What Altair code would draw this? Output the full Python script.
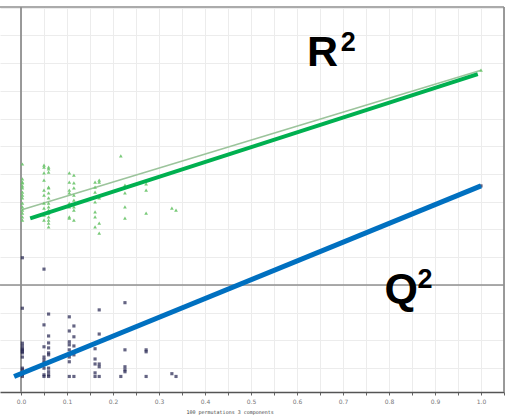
import altair as alt
import pandas as pd

# ---- data ----
# R2 permutation values (green triangles): x = correlation, one list of R2 per x column
r2_cols = [0.003, 0.05, 0.06, 0.105, 0.115, 0.161, 0.17, 0.217, 0.226, 0.272, 0.328, 0.337, 1.0]
r2_vals = [
    [0.436, 0.382, 0.371, 0.368, 0.357, 0.35, 0.335, 0.324, 0.314, 0.295, 0.281, 0.27, 0.259, 0.245, 0.234],
    [0.432, 0.425, 0.404, 0.378, 0.342, 0.324, 0.295, 0.277, 0.252, 0.234],
    [0.425, 0.418, 0.407, 0.353, 0.35, 0.332, 0.314, 0.295, 0.281, 0.27, 0.259, 0.245, 0.234, 0.223, 0.209],
    [0.404, 0.371, 0.342, 0.332, 0.295, 0.281, 0.245, 0.241],
    [0.396, 0.368, 0.35, 0.324, 0.306, 0.281, 0.27, 0.234],
    [0.371, 0.353, 0.335, 0.299, 0.263, 0.245, 0.209],
    [0.378, 0.371, 0.314, 0.223, 0.187],
    [0.465],
    [0.36, 0.353, 0.332, 0.281, 0.241],
    [0.364, 0.342, 0.259],
    [0.277],
    [0.27],
    [0.774],
]
# Q2 permutation values (dark squares)
q2_cols = [0.003, 0.05, 0.06, 0.105, 0.115, 0.161, 0.17, 0.217, 0.226, 0.272, 0.328, 0.337, 1.0]
q2_vals = [
    [0.098, -0.084, -0.21, -0.22, -0.23, -0.234, -0.24, -0.245, -0.26, -0.30, -0.306, -0.317, -0.324, -0.33],
    [0.057, -0.144, -0.223, -0.26, -0.27, -0.28, -0.30, -0.324, -0.33],
    [-0.105, -0.184, -0.209, -0.227, -0.245, -0.252, -0.30, -0.313, -0.324, -0.33],
    [-0.115, -0.166, -0.205, -0.216, -0.234, -0.26, -0.277, -0.33],
    [-0.148, -0.187, -0.22, -0.252, -0.33],
    [-0.23, -0.267, -0.285, -0.317, -0.33],
    [-0.09, -0.177, -0.285, -0.295, -0.33],
    [-0.33],
    [-0.064, -0.234, -0.295, -0.306, -0.313],
    [-0.234, -0.241, -0.33],
    [-0.32],
    [-0.33],
    [0.357],
]
# thin R2 regression line (SIMCA)
r2_fit_x = [0.0, 1.0]
r2_fit_y = [0.27, 0.774]
# thick overlay lines
r2_over_x = [0.02, 0.993]
r2_over_y = [0.24, 0.76]
q2_over_x = [-0.015, 1.0]
q2_over_y = [-0.33, 0.357]
# labels: main letter and superscript
lab_text = ["R", "Q"]
lab_x = [0.622, 0.79]
lab_y = [0.79, -0.066]
sup_text = ["2", "2"]
sup_x = [0.695, 0.862]
sup_y = [0.842, -0.012]

x_ticks = [round(i * 0.05, 2) for i in range(0, 22)]
y_ticks = [round(-0.3 + i * 0.1, 1) for i in range(0, 14)]
XDOM = [-0.04565, 1.05]
YDOM = [-0.386, 1.002]

r2_df = pd.DataFrame([(cx, v) for cx, vs in zip(r2_cols, r2_vals) for v in vs], columns=["x", "y"])
q2_df = pd.DataFrame([(cx, v) for cx, vs in zip(q2_cols, q2_vals) for v in vs], columns=["x", "y"])
fit_df = pd.DataFrame({"x": r2_fit_x, "y": r2_fit_y})
r2o_df = pd.DataFrame({"x": r2_over_x, "y": r2_over_y})
q2o_df = pd.DataFrame({"x": q2_over_x, "y": q2_over_y})
lab_df = pd.DataFrame({"t": lab_text, "x": lab_x, "y": lab_y})
sup_df = pd.DataFrame({"t": sup_text, "x": sup_x, "y": sup_y})
frame_v = pd.DataFrame({"x": [0.0, XDOM[1]]})
frame_h = pd.DataFrame({"y": [0.0, YDOM[1]]})

xs = alt.Scale(domain=XDOM, nice=False, zero=False)
ys = alt.Scale(domain=YDOM, nice=False, zero=False)

x_axis = alt.Axis(
    values=x_ticks,
    labelExpr="(round(datum.value*100) % 10 == 0) ? format(datum.value, '.1f') : ''",
    grid=True, gridColor="#ececec", gridWidth=1,
    domainColor="#555555", domainWidth=1.5,
    tickColor="#666666", tickSize=3, tickWidth=1,
    labelFont="DejaVu Sans", labelFontSize=6, labelColor="#777777", labelPadding=3,
    labelFlush=False,
    title="100 permutations 3 components",
    titleFont="DejaVu Sans Mono", titleFontSize=5, titleFontWeight="normal",
    titleColor="#444444", titleAnchor="start", titleAlign="left",
    titleX=186, titleY=21, titleBaseline="alphabetic",
)
y_axis = alt.Axis(
    values=y_ticks, labels=False, ticks=False, domain=False, title=None,
    grid=True, gridColor="#ececec", gridWidth=1,
)

def X():
    return alt.X("x:Q", scale=xs, axis=x_axis)

def Y():
    return alt.Y("y:Q", scale=ys, axis=y_axis)

vrules = alt.Chart(frame_v).mark_rule(color="#8f8f8f", strokeWidth=1.8).encode(x=X())
hrules = alt.Chart(frame_h).mark_rule(color="#8f8f8f", strokeWidth=1.5).encode(y=Y())

fit = alt.Chart(fit_df).mark_line(color="#9cc49c", strokeWidth=1.6).encode(x=X(), y=Y())

r2_pts = alt.Chart(r2_df).mark_point(shape="triangle-up", filled=True, size=14, color="#6cc46c", opacity=0.9).encode(
    x=X(), y=Y())
q2_pts = alt.Chart(q2_df).mark_point(shape="square", filled=True, size=10, color="#22224f").encode(
    x=X(), y=Y())

r2_over = alt.Chart(r2o_df).mark_line(color="#00b050", strokeWidth=4).encode(x=X(), y=Y())
q2_over = alt.Chart(q2o_df).mark_line(color="#0070c0", strokeWidth=5).encode(x=X(), y=Y())

labels = alt.Chart(lab_df).mark_text(
    font="Liberation Sans", fontSize=43, fontWeight="bold", color="#000000",
    align="left", baseline="alphabetic",
).encode(x=X(), y=Y(), text="t:N")
sups = alt.Chart(sup_df).mark_text(
    font="Liberation Sans", fontSize=27, fontWeight="bold", color="#000000",
    align="left", baseline="alphabetic",
).encode(x=X(), y=Y(), text="t:N")

chart = alt.layer(hrules, vrules, fit, r2_pts, q2_pts, r2_over, q2_over, labels, sups).properties(
    width=504, height=385,
    autosize=alt.AutoSizeParams(type="none"),
    padding={"left": 0, "top": 7, "right": 6, "bottom": 26},
    background="white",
).configure_view(stroke=None)

chart.save("out.html", embed_options={"renderer": "svg", "actions": False})
